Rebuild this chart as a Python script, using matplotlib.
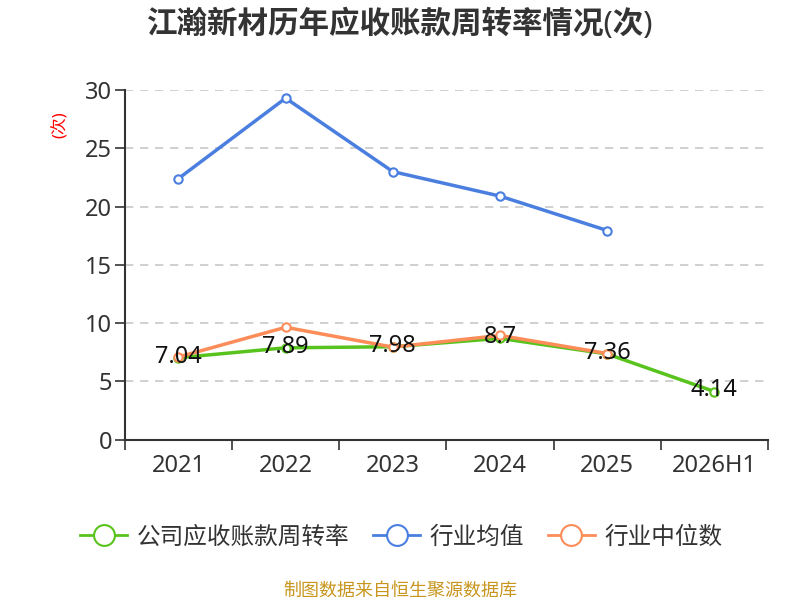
import numpy as np
import matplotlib.pyplot as plt
from matplotlib.lines import Line2D

plt.rcParams['font.family'] = ['Noto Sans', 'Noto Sans CJK SC', 'DejaVu Sans']

# 数据
years = ['2021', '2022', '2023', '2024', '2025', '2026H1']
company = [7.04, 7.89, 7.98, 8.7, 7.36, 4.14]
industry_avg = [22.4, 29.3, 23.0, 20.9, 17.95]
industry_median = [7.1, 9.65, 7.95, 8.95, 7.4]
names = ['公司应收账款周转率', '行业均值', '行业中位数']

c_green = '#58c31d'
c_blue = '#4a7fe0'
c_orange = '#fc8c58'

fig = plt.figure(figsize=(8, 6), dpi=100)
ax = fig.add_axes([0.156, 0.267, 0.804, 0.583])

x = np.arange(len(years))
mk = dict(marker='o', markersize=6, markerfacecolor='white', markeredgewidth=1.5)
ax.plot(x, company, color=c_green, lw=2.5, markeredgecolor=c_green, zorder=3, **mk)
ax.plot(x[:len(industry_avg)], industry_avg, color=c_blue, lw=2.5, markeredgecolor=c_blue, zorder=3, **mk)
ax.plot(x[:len(industry_median)], industry_median, color=c_orange, lw=2.5, markeredgecolor=c_orange, zorder=4, **mk)

for xi, v in zip(x, company):
    ax.text(xi, v + 0.1, f'{v:g}', ha='center', va='center', fontsize=17, color='#111111', zorder=5)

ax.set_xlim(-0.5, len(years) - 0.5)
ax.set_ylim(0, 30)
ax.set_yticks(range(0, 31, 5))
ax.set_xticks(np.arange(-0.5, len(years), 1))
ax.set_xticklabels([])
ax.set_xticks(x, minor=True)
ax.set_xticklabels(years, minor=True)
ax.tick_params(axis='x', which='major', length=7, width=1.2, color='#333333')
ax.tick_params(axis='x', which='minor', length=0, pad=10, labelsize=17, labelcolor='#333333')
ax.tick_params(axis='y', length=7, width=1.2, color='#333333', labelsize=17, labelcolor='#333333', pad=2)

for s in ['top', 'right']:
    ax.spines[s].set_visible(False)
for s in ['left', 'bottom']:
    ax.spines[s].set_color('#333333')
    ax.spines[s].set_linewidth(1.5)

ax.yaxis.grid(True, linestyle=(0, (5, 4)), color='#c8c8c8', lw=1.2)
ax.set_axisbelow(True)

fig.text(0.076, 0.792, '(次)', rotation=90, color='red', fontsize=12, ha='center', va='center')

fig.suptitle('江瀚新材历年应收账款周转率情况(次)', x=0.5, y=0.985, fontsize=22, fontweight='bold', color='#333333')

handles = [Line2D([0], [0], color=c, lw=2, marker='o', markersize=15, markerfacecolor='white',
                  markeredgecolor=c, markeredgewidth=1.5) for c in (c_green, c_blue, c_orange)]
ax.legend(handles, names, loc='upper center', bbox_to_anchor=(0.43, -0.185), ncol=3, frameon=False,
          fontsize=17, handlelength=2.0, columnspacing=1.0, handletextpad=0.4,
          labelcolor='#333333')

fig.text(0.5, 0.0, '制图数据来自恒生聚源数据库', ha='center', va='bottom', fontsize=13, color='#c8961e')

fig.savefig('out.png', dpi=100)
